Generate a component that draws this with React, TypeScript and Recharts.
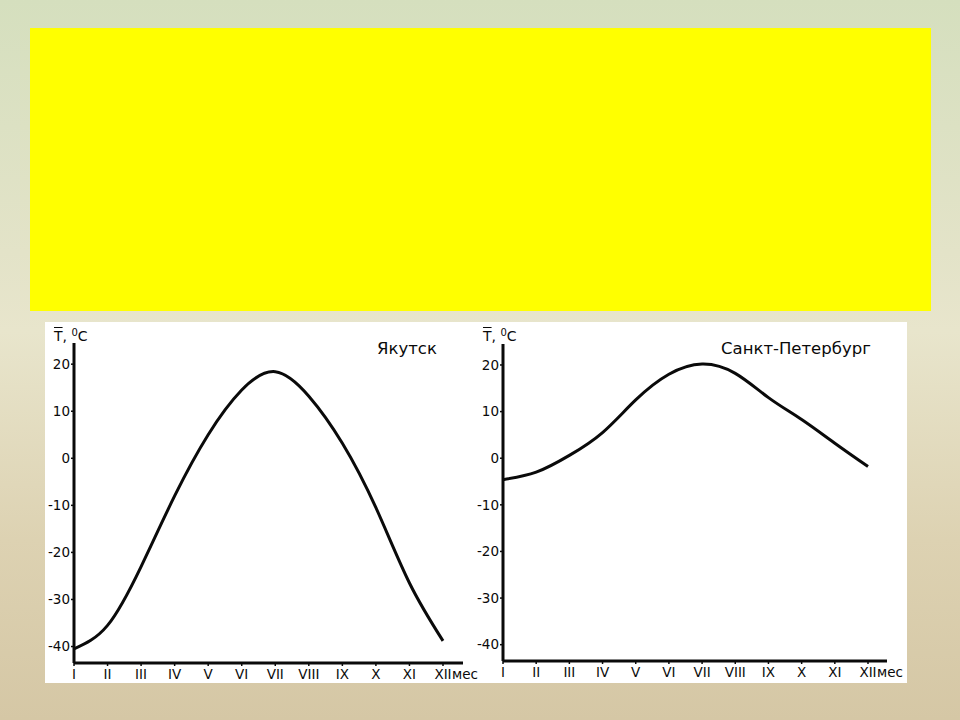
import { LineChart, Line, XAxis, YAxis } from "recharts"

const months = ["I", "II", "III", "IV", "V", "VI", "VII", "VIII", "IX", "X", "XI", "XII"]
const yakutsk = [-40.5, -35.5, -23, -8, 5, 14.5, 18.4, 13.2, 3.2, -10.5, -26.5, -38.8]
const spb = [-4.6, -3, 0.6, 5.5, 12.5, 18, 20.2, 18.2, 13, 8.3, 3.2, -1.8]
const yTicks = [-40, -30, -20, -10, 0, 10, 20]

const font = "'DejaVu Sans', Verdana, sans-serif"
const ink = "#0a0a0a"

const toRows = (values: number[]) => months.map((m, i) => ({ month: m, t: values[i] }))

function MonthTick(props: any) {
  const { x, y, payload } = props
  const last = payload.value === "XII"
  return (
    <g>
      <text x={x} y={y + 11} textAnchor="middle" fontSize={13.5} fontFamily={font} fill={ink}>
        {payload.value}
      </text>
      {last && (
        <text x={x + 9} y={y + 11} textAnchor="start" fontSize={13.5} fontFamily={font} fill={ink}>
          мес
        </text>
      )}
    </g>
  )
}

function TempChart({
  values, left, top, yWidth, right, mTop, xHeight, padRight,
}: {
  values: number[]; left: number; top: number; yWidth: number; right: number
  mTop: number; xHeight: number; padRight: number
}) {
  return (
    <div style={{ position: "absolute", left, top }}>
      <LineChart width={460} height={360} data={toRows(values)} margin={{ top: mTop, right, bottom: 0, left: 0 }}>
        <XAxis
          dataKey="month"
          interval={0}
          height={xHeight}
          padding={{ left: 0, right: padRight }}
          axisLine={{ stroke: ink, strokeWidth: 3 }}
          tickLine={{ stroke: ink, strokeWidth: 1.5 }}
          tickSize={3}
          tick={<MonthTick />}
        />
        <YAxis
          width={yWidth}
          domain={[-43.5, 24.5]}
          ticks={yTicks}
          interval={0}
          axisLine={{ stroke: ink, strokeWidth: 3 }}
          tickLine={{ stroke: ink, strokeWidth: 1.5 }}
          tickSize={3}
          tickMargin={1}
          tick={{ fontSize: 13.5, fontFamily: font, fill: ink }}
        />
        <Line
          type="natural"
          dataKey="t"
          stroke={ink}
          strokeWidth={3}
          dot={false}
          isAnimationActive={false}
        />
      </LineChart>
    </div>
  )
}

function TLabel({ left, top }: { left: number; top: number }) {
  return (
    <div style={{ position: "absolute", left, top, fontFamily: font, fontSize: 14, color: ink, lineHeight: "16px" }}>
      <span style={{ textDecoration: "overline" }}>T</span>, <sup style={{ fontSize: 10, verticalAlign: "5px" }}>0</sup>C
    </div>
  )
}

export default function App() {
  return (
    <div
      style={{
        position: "absolute",
        left: 0,
        top: 0,
        width: 960,
        height: 720,
        overflow: "hidden",
        background: "linear-gradient(180deg, #d5dfbe 0%, #e3e3c8 35%, #e8e5cc 46%, #ddd2b2 75%, #d5c7a5 100%)",
      }}
    >
      <div style={{ position: "absolute", left: 30, top: 28, width: 901, height: 283, background: "#ffff00" }} />
      <div style={{ position: "absolute", left: 45, top: 322, width: 862, height: 361, background: "#fff" }} />
      <TempChart values={yakutsk} left={30} top={330} yWidth={44} right={27} mTop={13} xHeight={27} padRight={20} />
      <TempChart values={spb} left={460} top={330} yWidth={43} right={33} mTop={14} xHeight={29} padRight={19} />
      <TLabel left={54} top={325} />
      <TLabel left={483} top={325} />
      <div style={{ position: "absolute", left: 377, top: 339, fontFamily: font, fontSize: 16.5, color: ink }}>Якутск</div>
      <div style={{ position: "absolute", left: 721, top: 339, fontFamily: font, fontSize: 16.5, color: ink }}>Санкт-Петербург</div>
    </div>
  )
}
